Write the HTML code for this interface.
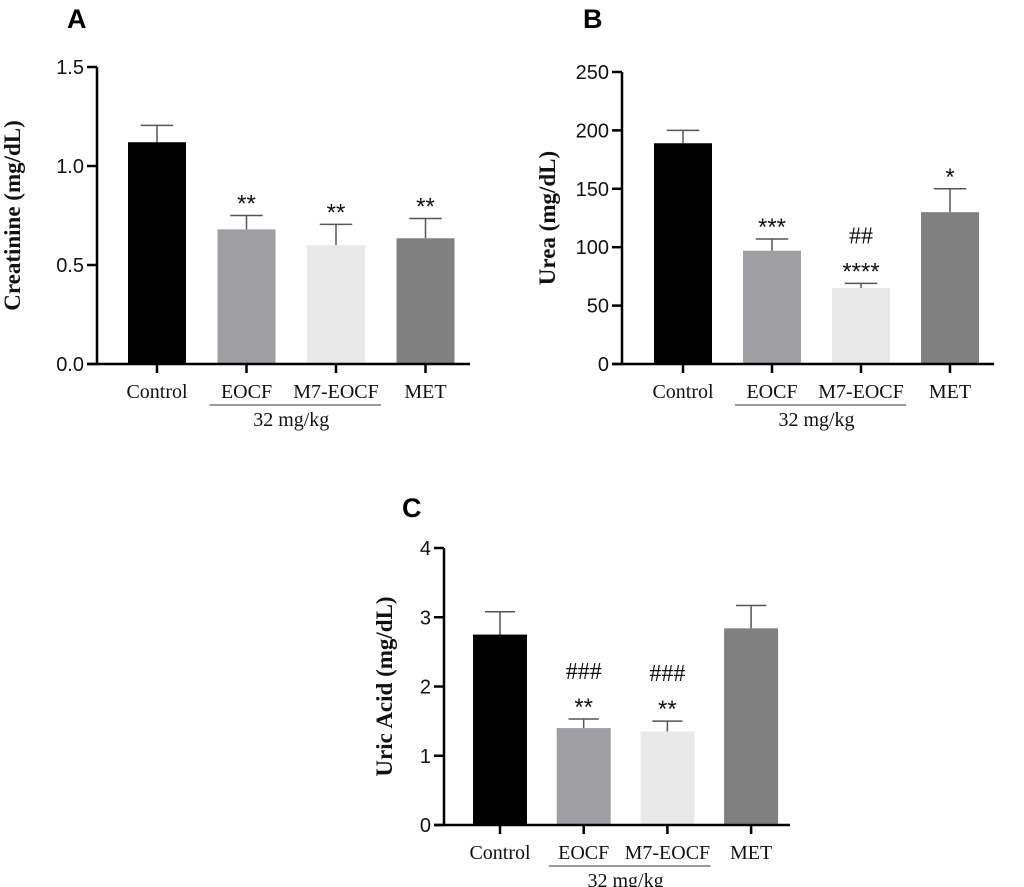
<!DOCTYPE html>
<html><head><meta charset="utf-8"><style>
html,body{margin:0;padding:0;background:#fff}
svg{display:block}
.tk{font-family:"Liberation Sans",sans-serif;font-size:20px;fill:#111}
.xl{font-family:"Liberation Serif",serif;font-size:20px;fill:#111}
.yt{font-family:"Liberation Serif",serif;font-size:23px;font-weight:bold;fill:#111}
.pl{font-family:"Liberation Sans",sans-serif;font-size:27px;font-weight:bold;fill:#000}
.sg{font-family:"Liberation Sans",sans-serif;font-size:24px;fill:#111}
.hs{font-family:"Liberation Serif",serif;font-size:24px;fill:#111}
</style></head><body>
<svg id="chart" width="1024" height="887" xmlns="http://www.w3.org/2000/svg"></svg>
<script>
const categories = ["Control","EOCF","M7-EOCF","MET"];
const colors = ["#000000","#9f9fa3","#e9e9e9","#808080"];
const creatinineMeans = [1.12,0.68,0.60,0.635];
const creatinineErr = [0.085,0.07,0.105,0.10];
const creatinineSig = [[],["**"],["**"],["**"]];
const creatinineTicks = ["0.0","0.5","1.0","1.5"];
const ureaMeans = [189,97,65,130];
const ureaErr = [11,10,4,20];
const ureaSig = [[],["***"],["****","##"],["*"]];
const ureaTicks = ["0","50","100","150","200","250"];
const uricMeans = [2.75,1.40,1.35,2.84];
const uricErr = [0.33,0.13,0.15,0.33];
const uricSig = [[],["**","###"],["**","###"],[]];
const uricTicks = ["0","1","2","3","4"];

const NS="http://www.w3.org/2000/svg";
const svg=document.getElementById('chart');
function mk(tag,attrs,parent,txt){const e=document.createElementNS(NS,tag);for(const k in attrs)e.setAttribute(k,attrs[k]);if(txt!==undefined)e.textContent=txt;(parent||svg).appendChild(e);return e;}

function panel(o){
  const g=mk('g',{});
  
  
  const yMax=parseFloat(o.ticks[o.ticks.length-1]);
  const y=v=>o.y0-(v/yMax)*(o.y0-o.yTop);
  const x=i=>o.x1+i*o.step;
  const L=mk('text',{x:o.lx,y:o.ly,class:'pl'},g,o.letter);
  
  
  o.means.forEach((m,i)=>{
    const top=y(m+o.err[i]);
    const eb=mk('g',{},g);
    
    
    mk('line',{x1:x(i),x2:x(i),y1:y(m),y2:top,stroke:'#555','stroke-width':1.5},eb);
    mk('line',{x1:x(i)-o.bw*0.28,x2:x(i)+o.bw*0.28,y1:top,y2:top,stroke:'#555','stroke-width':1.5},eb);
    const r=mk('rect',{x:x(i)-o.bw/2,y:y(m),width:o.bw,height:o.y0-y(m),fill:colors[i]},g);
    
    
    o.sig[i].forEach((s,k)=>{
      const isHash=s[0]==='#';
      const t=mk('text',{x:x(i),y:isHash?top-40:top-4,'text-anchor':'middle',class:isHash?'hs':'sg'},g,s);
      
      
    });
    mk('line',{x1:x(i),x2:x(i),y1:o.y0,y2:o.y0+9,stroke:'#000','stroke-width':2.5},g);
    const xl=mk('text',{x:x(i),y:o.y0+34,'text-anchor':'middle',class:'xl'},g,categories[i]);
    
    
  });
  const ax=mk('line',{x1:o.ax,x2:o.ax,y1:o.yTop,y2:o.y0,stroke:'#000','stroke-width':2.5},g);
  
  
  const xa=mk('line',{x1:o.ax-10,x2:o.xEnd,y1:o.y0,y2:o.y0,stroke:'#000','stroke-width':2.5},g);
  
  
  o.ticks.forEach(t=>{
    const v=parseFloat(t);
    mk('line',{x1:o.ax-10,x2:o.ax,y1:y(v),y2:y(v),stroke:'#000','stroke-width':2.5},g);
    const tt=mk('text',{x:o.ax-13,y:y(v)+7,'text-anchor':'end',class:'tk'},g,t);
    
    
  });
  const cy=(o.y0+o.yTop)/2;
  const yt=mk('text',{x:o.tx,y:cy,'text-anchor':'middle',class:'yt',transform:`rotate(-90 ${o.tx} ${cy})`},g,o.title);
  
  
  const ul=mk('line',{x1:x(1)-o.bw/2-8,x2:x(2)+o.bw/2+16,y1:o.y0+41,y2:o.y0+41,stroke:'#333','stroke-width':1},g);
  
  
  const dl=mk('text',{x:(x(1)+x(2))/2,y:o.y0+62,'text-anchor':'middle',class:'xl'},g,'32 mg/kg');
  
  
}
panel({name:'panel-a-creatinine',letter:'A',lx:67,ly:28,means:creatinineMeans,err:creatinineErr,sig:creatinineSig,ticks:creatinineTicks,
  title:'Creatinine (mg/dL)',tx:20,ax:97,y0:364,yTop:67,x1:157,step:89.5,bw:58,xEnd:470});
panel({name:'panel-b-urea',letter:'B',lx:583,ly:28,means:ureaMeans,err:ureaErr,sig:ureaSig,ticks:ureaTicks,
  title:'Urea (mg/dL)',tx:555,ax:622,y0:364,yTop:72,x1:683,step:89,bw:58,xEnd:994});
panel({name:'panel-c-uric-acid',letter:'C',lx:402,ly:517,means:uricMeans,err:uricErr,sig:uricSig,ticks:uricTicks,
  title:'Uric Acid (mg/dL)',tx:392,ax:444,y0:825,yTop:548,x1:500,step:83.7,bw:54,xEnd:790});
</script>
</body></html>
